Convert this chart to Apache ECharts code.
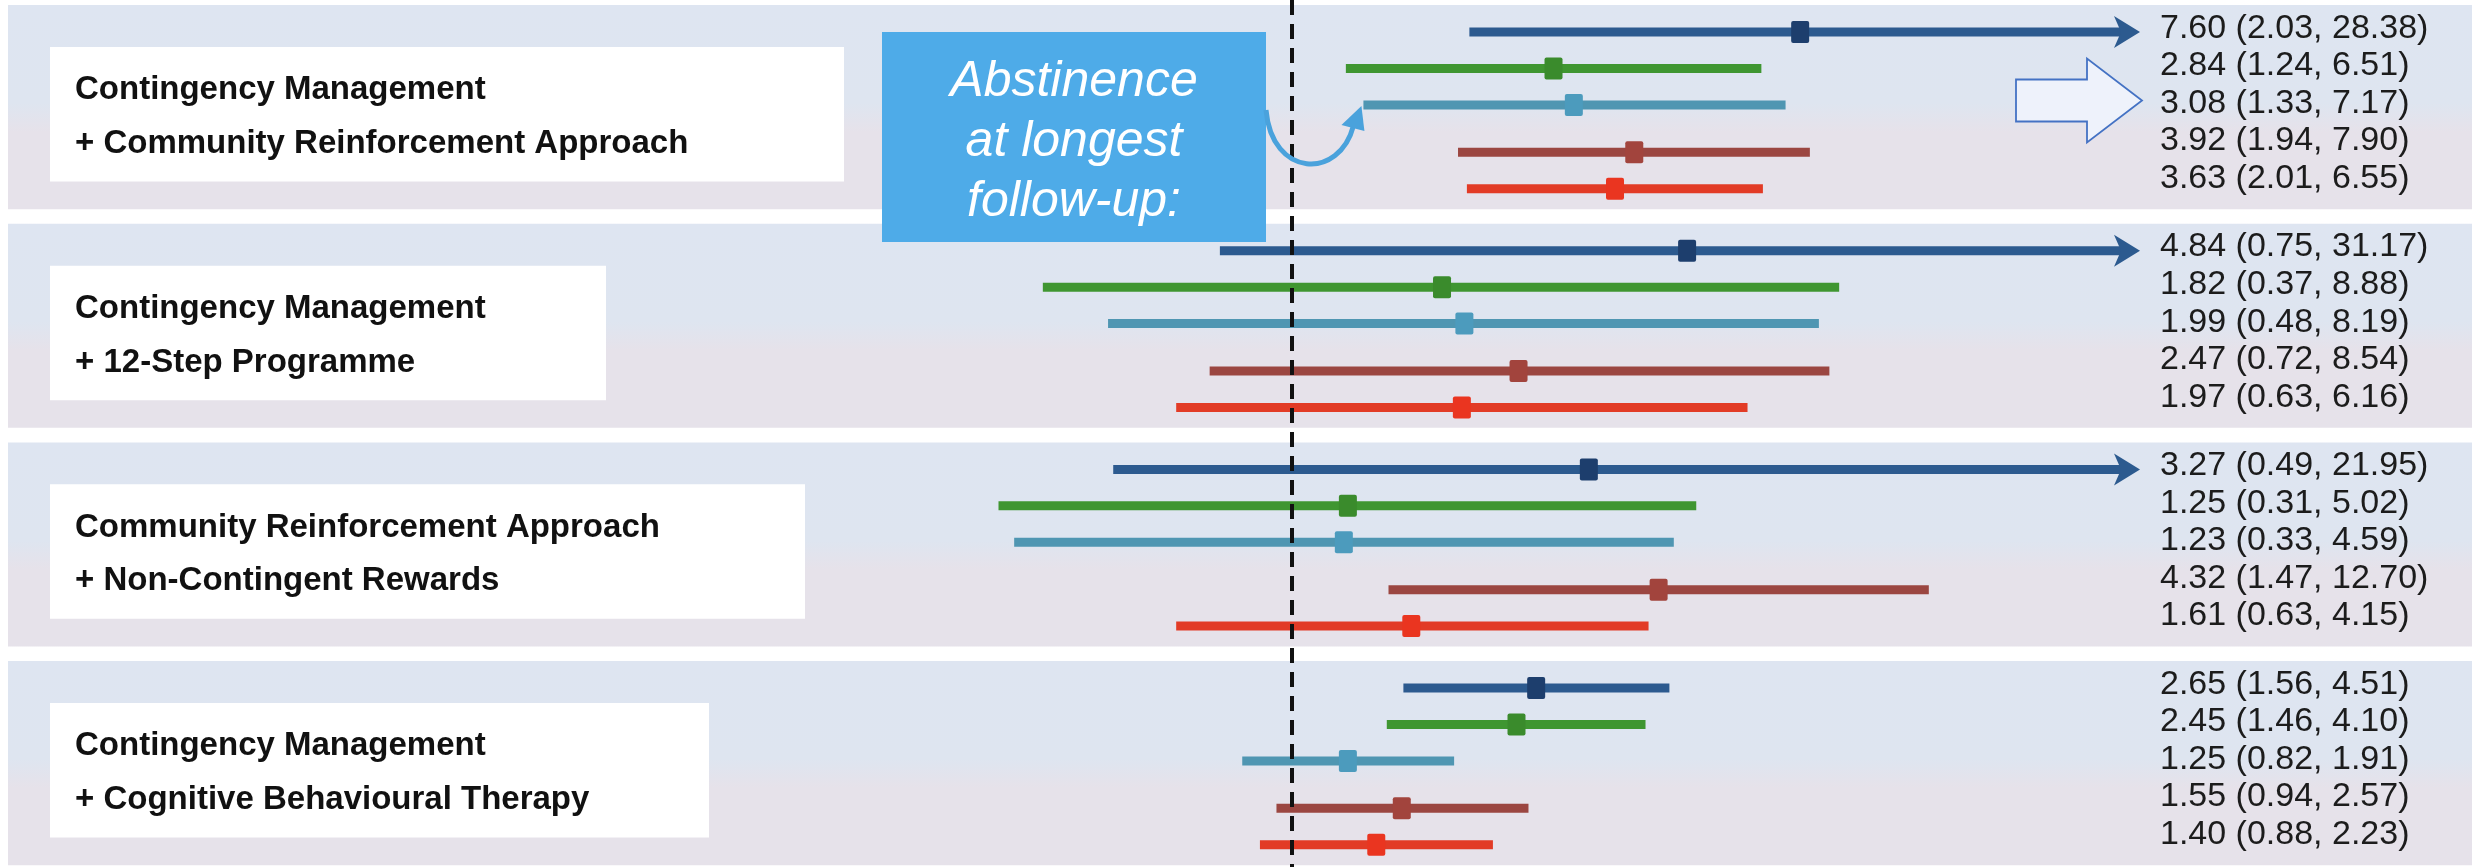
<!DOCTYPE html>
<html>
<head>
<meta charset="utf-8">
<script src="https://cdn.jsdelivr.net/npm/echarts@6/dist/echarts.min.js"></script>
<style>
  html, body { margin: 0; padding: 0; background: #ffffff; }
  #chart { width: 2479px; height: 867px; }
</style>
</head>
<body>
<div id="chart"></div>
<script>
// ---- data -------------------------------------------------------------
const groupTitles = [
  ['Contingency Management', '+ Community Reinforcement Approach'],
  ['Contingency Management', '+ 12-Step Programme'],
  ['Community Reinforcement Approach', '+ Non-Contingent Rewards'],
  ['Contingency Management', '+ Cognitive Behavioural Therapy']
];
const oddsRatios = [
  [7.60, 2.84, 3.08, 3.92, 3.63],
  [4.84, 1.82, 1.99, 2.47, 1.97],
  [3.27, 1.25, 1.23, 4.32, 1.61],
  [2.65, 2.45, 1.25, 1.55, 1.40]
];
const lowerCI = [
  [2.03, 1.24, 1.33, 1.94, 2.01],
  [0.75, 0.37, 0.48, 0.72, 0.63],
  [0.49, 0.31, 0.33, 1.47, 0.63],
  [1.56, 1.46, 0.82, 0.94, 0.88]
];
const upperCI = [
  [28.38, 6.51, 7.17, 7.90, 6.55],
  [31.17, 8.88, 8.19, 8.54, 6.16],
  [21.95, 5.02, 4.59, 12.70, 4.15],
  [4.51, 4.10, 1.91, 2.57, 2.23]
];
const annotationLines = ['Abstinence', 'at longest', 'follow-up:'];

// ---- styling / layout -------------------------------------------------
const lineColors   = ['#2c5a8f', '#3f9631', '#4f96b2', '#9b4641', '#e23b26'];
const markerColors = ['#1d3e6d', '#3a8b2c', '#4c9bbd', '#a2443d', '#ea3520'];
const rowOffsets = [0, 1, 2, 3.3, 4.3];     // vertical slot of each row inside a block
const GROUP_SPAN = 6;                        // slots per block
const ARROW_FROM = 20;                       // upper limits above this run off the scale
const X_MIN = 0.1, X_MAX = 29.5;
const boxWidths = [794, 556, 755, 659];
const LABEL_X = 2160;
const BAND_LEFT = 8, BAND_RIGHT = 2472;
const TEXT_FONT = '"Liberation Sans", Arial, sans-serif';

const rowY = (g, r) => g * GROUP_SPAN + rowOffsets[r];
const fmt = v => v.toFixed(2);

const chart = echarts.init(document.getElementById('chart'), null, { renderer: 'canvas' });

// background block per comparison
const bandSeries = {
  type: 'custom',
  z: 1,
  silent: true,
  data: groupTitles.map((t, g) => [g]),
  encode: { x: -1, y: -1 },
  renderItem(params, api) {
    const g = api.value(0);
    const top = api.coord([1, g * GROUP_SPAN - 0.74])[1];
    const bottom = api.coord([1, g * GROUP_SPAN + 4.86])[1];
    return {
      type: 'rect',
      shape: { x: BAND_LEFT, y: top, width: BAND_RIGHT - BAND_LEFT, height: bottom - top },
      style: {
        fill: new echarts.graphic.LinearGradient(0, 0, 0, 1, [
          { offset: 0, color: '#dee5f1' },
          { offset: 0.48, color: '#dee5f0' },
          { offset: 0.62, color: '#e6e2ea' },
          { offset: 1, color: '#e6e2ea' }
        ])
      }
    };
  }
};

// white label box with the comparison name
const titleSeries = {
  type: 'custom',
  z: 2,
  silent: true,
  data: groupTitles.map((t, g) => [g]),
  encode: { x: -1, y: -1 },
  renderItem(params, api) {
    const g = api.value(0);
    const top = api.coord([1, g * GROUP_SPAN + 0.41])[1];
    const bottom = api.coord([1, g * GROUP_SPAN + 4.1])[1];
    const l1 = api.coord([1, g * GROUP_SPAN + 1.6])[1];
    const l2 = api.coord([1, g * GROUP_SPAN + 3.07])[1];
    const textStyle = (txt, y) => ({
      type: 'text',
      style: {
        x: 75, y: y, text: txt, fill: '#111111',
        font: 'bold 33px ' + TEXT_FONT,
        verticalAlign: 'middle', align: 'left'
      }
    });
    return {
      type: 'group',
      children: [
        { type: 'rect', shape: { x: 50, y: top, width: boxWidths[g], height: bottom - top }, style: { fill: '#ffffff' } },
        textStyle(groupTitles[g][0], l1),
        textStyle(groupTitles[g][1], l2)
      ]
    };
  }
};

// one interval series per outcome colour
const intervalSeries = lineColors.map((color, r) => ({
  type: 'custom',
  z: 4,
  data: oddsRatios.map((row, g) => [lowerCI[g][r], upperCI[g][r], row[r], rowY(g, r)]),
  encode: { x: [0, 1, 2], y: 3 },
  renderItem(params, api) {
    const lo = api.value(0), hi = api.value(1), est = api.value(2), y = api.value(3);
    const arrow = hi > ARROW_FROM;
    const p0 = api.coord([lo, y]);
    const p1 = api.coord([arrow ? X_MAX : hi, y]);
    const pe = api.coord([est, y]);
    const children = [{
      type: 'line',
      shape: { x1: p0[0], y1: p0[1], x2: arrow ? p1[0] - 12 : p1[0], y2: p1[1] },
      style: { stroke: color, lineWidth: 9, lineCap: 'butt' }
    }];
    if (arrow) {
      const tx = p1[0], ty = p1[1];
      children.push({
        type: 'polygon',
        shape: { points: [[tx - 26, ty - 16], [tx, ty], [tx - 26, ty + 16], [tx - 19, ty]] },
        style: { fill: color }
      });
    }
    children.push({
      type: 'rect',
      shape: { x: pe[0] - 9, y: pe[1] - 11, width: 18, height: 22, r: 2 },
      style: { fill: markerColors[r] }
    });
    return { type: 'group', children };
  }
}));

// estimate (CI) text column
const labelData = [];
oddsRatios.forEach((row, g) => row.forEach((v, r) => labelData.push([g, r])));
const labelSeries = {
  type: 'custom',
  z: 3,
  silent: true,
  data: labelData,
  encode: { x: -1, y: -1 },
  renderItem(params, api) {
    const g = api.value(0), r = api.value(1);
    const y = api.coord([1, g * GROUP_SPAN - 0.1 + r * 1.03])[1];
    return {
      type: 'text',
      style: {
        x: LABEL_X, y: y,
        text: fmt(oddsRatios[g][r]) + ' (' + fmt(lowerCI[g][r]) + ', ' + fmt(upperCI[g][r]) + ')',
        fill: '#1c1c1c', font: '34px ' + TEXT_FONT,
        verticalAlign: 'middle', align: 'left'
      }
    };
  }
};

// line of no effect
const nullLine = {
  type: 'line',
  z: 6,
  data: [],
  markLine: {
    silent: true,
    symbol: ['none', 'none'],
    label: { show: false },
    lineStyle: { color: '#111111', width: 4, type: [15, 9] },
    data: [{ xAxis: 1 }]
  }
};

chart.setOption({
  animation: false,
  backgroundColor: '#ffffff',
  grid: { left: 715, right: 339, top: 0, bottom: 0 },
  xAxis: {
    type: 'log', logBase: 10, min: X_MIN, max: X_MAX,
    axisLine: { show: false }, axisTick: { show: false },
    axisLabel: { show: false }, splitLine: { show: false }
  },
  yAxis: {
    type: 'value', inverse: true, min: -0.88, max: 22.91,
    axisLine: { show: false }, axisTick: { show: false },
    axisLabel: { show: false }, splitLine: { show: false }
  },
  series: [bandSeries, titleSeries, labelSeries, ...intervalSeries, nullLine]
});

// call-outs: text box with a curved pointer, and the outlined arrow by the estimates
const tip = chart.convertToPixel({ gridIndex: 0 }, [lowerCI[0][2], rowY(0, 2)]);
const labelRowY = chart.convertToPixel({ gridIndex: 0 }, [1, 0 * GROUP_SPAN - 0.1 + 2 * 1.03])[1] - 3;
const tx = tip[0] - 2, ty = tip[1] + 3;
const cy = labelRowY;

chart.setOption({
  graphic: [
    {
      type: 'rect', z: 20,
      shape: { x: 882, y: 32, width: 384, height: 210 },
      style: { fill: '#4eabe8' }
    },
    ...annotationLines.map((t, i) => ({
      type: 'text', z: 21,
      style: {
        x: 1074, y: 82 + i * 60, text: t, fill: '#ffffff',
        font: 'italic 50px ' + TEXT_FONT, align: 'center', verticalAlign: 'middle'
      }
    })),
    {
      type: 'bezierCurve', z: 21,
      shape: { x1: 1266, y1: 110, cpx1: 1272, cpy1: 178, cpx2: tx - 22, cpy2: ty + 72, x2: tx - 8, y2: ty + 18 },
      style: { stroke: '#4aa2dc', lineWidth: 5, fill: null }
    },
    {
      type: 'polygon', z: 21,
      shape: { points: [[tx, ty - 2], [tx - 20, ty + 17], [tx + 3, ty + 23]] },
      style: { fill: '#4aa2dc' }
    },
    {
      type: 'polygon', z: 21,
      shape: {
        points: [[2016, cy - 21], [2087, cy - 21], [2087, cy - 42], [2142, cy],
                 [2087, cy + 42], [2087, cy + 21], [2016, cy + 21]]
      },
      style: { fill: '#eef2fb', stroke: '#4472c4', lineWidth: 1.8 }
    }
  ]
});
</script>
</body>
</html>
